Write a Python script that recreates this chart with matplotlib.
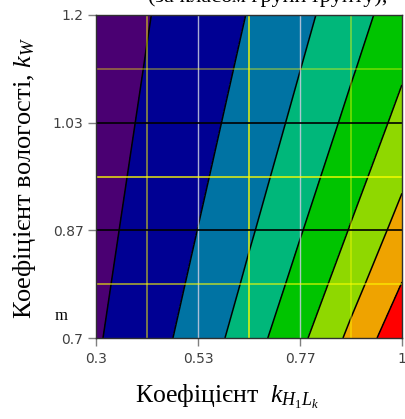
import numpy as np
import matplotlib
matplotlib.use("Agg")
import matplotlib.pyplot as plt

# grid nodes (coefficient k_H1Lk along x, moisture coefficient k_W along y)
k_h = [0.3, 0.4167, 0.5333, 0.65, 0.7667, 0.8833, 1.0]
k_w = [0.7, 0.7833, 0.8667, 0.95, 1.0333, 1.1167, 1.2]

# surface values (rows follow k_w, columns follow k_h)
z_rows = [
    [0.2098, 0.2914, 0.3729, 0.4545, 0.5361, 0.6177, 0.6993],
    [0.1982, 0.2754, 0.3524, 0.4295, 0.5066, 0.5837, 0.6608],
    [0.1879, 0.2610, 0.3340, 0.4071, 0.4802, 0.5532, 0.6263],
    [0.1786, 0.2480, 0.3174, 0.3869, 0.4564, 0.5258, 0.5952],
    [0.1701, 0.2363, 0.3024, 0.3686, 0.4348, 0.5009, 0.5671],
    [0.1625, 0.2256, 0.2888, 0.3520, 0.4152, 0.4783, 0.5415],
    [0.1554, 0.2159, 0.2763, 0.3368, 0.3973, 0.4577, 0.5181],
]
levels = [0.0, 0.2210, 0.3329, 0.4161, 0.4846, 0.5490, 0.6049, 0.6594, 1.0]
band_colors = ["#4a0072", "#000093", "#0073a3", "#00b77a", "#00c400",
               "#8fd800", "#efa300", "#ff0000"]

x_ticks = [0.3, 0.5333, 0.7667, 1.0]
x_labels = ["0.3", "0.53", "0.77", "1"]
y_ticks = [0.7, 0.8667, 1.0333, 1.2]
y_labels = ["0.7", "0.87", "1.03", "1.2"]

plt.rcParams["mathtext.fontset"] = "custom"
plt.rcParams["mathtext.rm"] = "Liberation Serif"
plt.rcParams["mathtext.it"] = "Liberation Serif:italic"

fig = plt.figure(figsize=(4.05, 4.19), dpi=100)
ax = fig.add_axes([96 / 405, 81 / 419, 306 / 405, 323 / 419])

X, Y = np.meshgrid(k_h, k_w)
Z = np.array(z_rows)
ax.contourf(X, Y, Z, levels=levels, colors=band_colors)
ax.contour(X, Y, Z, levels=levels[1:-1], colors="black", linewidths=1.1)

# grid lines
minor_alpha = {0.4167: 0.6, 0.65: 0.9, 0.8833: 0.5, 0.7833: 0.7, 0.95: 0.9, 1.1167: 0.45}
for v in k_h[1:-1]:
    if v in x_ticks:
        ax.axvline(v, color="#c8cce0", lw=1.0, alpha=0.85)
    else:
        ax.axvline(v, color="#ffff00", lw=1.1, alpha=minor_alpha[v])
for v in k_w[1:-1]:
    if v in y_ticks:
        ax.axhline(v, color="black", lw=1.2)
    else:
        ax.axhline(v, color="#ffff00", lw=1.1, alpha=minor_alpha[v])

ax.set_xlim(0.3, 1.0)
ax.set_ylim(0.7, 1.2)
ax.set_xticks(x_ticks)
ax.set_xticklabels(x_labels)
ax.set_yticks(y_ticks)
ax.set_yticklabels(y_labels)
ax.tick_params(direction="out", length=6, width=1, color="#808080",
               labelcolor="#404040", labelsize=10, pad=3)
ax.tick_params(axis="x", pad=4)
for s in ax.spines.values():
    s.set_color("#303030")
    s.set_linewidth(1.0)

ax.set_xlabel("Коефіцієнт  $k_{H_1L_k}$", family="Liberation Serif", fontsize=18.5)
ax.xaxis.set_label_coords(0.43, -0.14)
ax.set_ylabel("Коефіцієнт вологості, $k_W$", family="Liberation Serif", fontsize=19)
ax.yaxis.set_label_coords(-0.19, 0.495)

fig.text(55 / 405, 1 - 320 / 419, "m", family="Liberation Serif", fontsize=12)
fig.text(148 / 405, 1 - 2 / 419, "(за класом групи ґрунту),",
         family="Liberation Serif", fontsize=16, va="baseline", ha="left")

fig.savefig("out.png", dpi=100)
